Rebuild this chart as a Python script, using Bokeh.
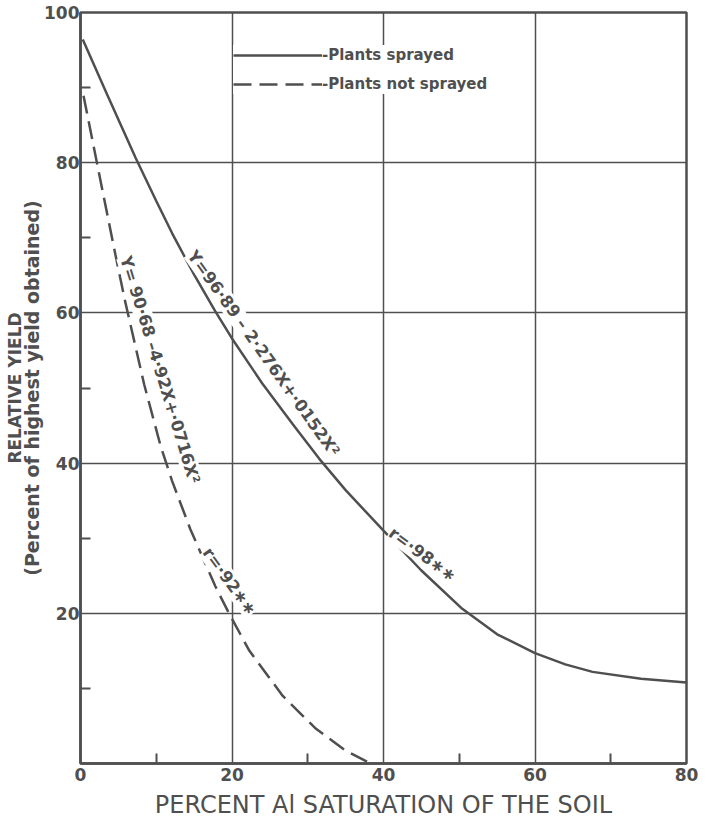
import numpy as np
from bokeh.plotting import figure
from bokeh.models import Range1d, FixedTicker, Legend, LegendItem, LinearAxis
from bokeh.core.properties import value
from bokeh.embed import file_html
from bokeh.resources import INLINE

# ---- data ----
sprayed_x = [0.3, 3.5, 7.3, 10.0, 12.1, 15.0, 17.8, 20.0, 24.0, 28.0, 31.5, 35.0, 40.0, 45.0,
             50.4, 55.0, 60.0, 64.0, 67.6, 74.0, 80.0]
sprayed_y = [96.4, 89.1, 80.6, 74.9, 70.6, 65.1, 60.2, 56.6, 50.6, 45.2, 40.6, 36.4, 31.0, 25.7,
             20.6, 17.2, 14.7, 13.2, 12.2, 11.3, 10.8]

not_sprayed_x = [0.4, 2.8, 4.6, 5.9, 8.4, 10.6, 12.1, 14.5, 17.8, 19.6, 22.3, 26.7, 31.0, 35.0, 38.3]
not_sprayed_y = [88.9, 76.8, 67.8, 61.5, 50.5, 42.2, 37.6, 31.2, 23.6, 20.0, 15.0, 9.0, 4.7, 1.7, 0.0]

x_ticks = [0, 20, 40, 60, 80]
x_minor = [10, 30, 50, 70]
y_ticks = [20, 40, 60, 80, 100]
y_minor = [10, 30, 50, 70, 90]
grid_x = [20, 40, 60]
grid_y = [20, 40, 60, 80]

series_labels = ["-Plants sprayed", "-Plants not sprayed"]

eq_text = ["Y=96·89 – 2·276X+·0152X²", "r=·98∗∗", "Y= 90·68 –4·92X+·0716X²", "r=·92∗∗"]
eq_x = [24.16, 45.15, 10.5, 19.67]
eq_y = [54.6, 27.83, 52.4, 24.23]
eq_angle_deg = [-54.5, -36.6, -73.0, -54.0]

x_title = "PERCENT Al SATURATION OF THE SOIL"
y_title1 = "RELATIVE YIELD"
y_title2 = "(Percent of highest yield obtained)"

INK = "#4f4f4f"
FONT = "DejaVu Sans"

p = figure(width=699, height=822, output_backend="svg", toolbar_location=None,
           x_range=Range1d(0, 80), y_range=Range1d(0, 100),
           min_border_left=80, min_border_right=13, min_border_top=12, min_border_bottom=59)
p.background_fill_color = "white"
p.border_fill_color = "white"
p.outline_line_color = INK
p.outline_line_width = 2.5
p.outline_line_alpha = 1.0

p.xaxis.ticker = FixedTicker(ticks=x_ticks, minor_ticks=x_minor)
p.yaxis.ticker = FixedTicker(ticks=y_ticks, minor_ticks=y_minor)
for ax in (p.xaxis[0], p.yaxis[0]):
    ax.axis_line_color = INK
    ax.axis_line_width = 2.5
    ax.major_tick_in = 0
    ax.major_tick_out = 0
    ax.minor_tick_in = 10
    ax.minor_tick_out = 0
    ax.minor_tick_line_color = INK
    ax.minor_tick_line_width = 2
    ax.major_label_text_font = FONT
    ax.major_label_text_font_size = "17px"
    ax.major_label_text_font_style = "bold"
    ax.major_label_text_color = INK
    ax.axis_label_text_font = FONT
    ax.axis_label_text_color = INK
p.yaxis.major_label_standoff = 1
p.xaxis.major_label_standoff = 4

p.xaxis.axis_label = x_title
p.xaxis.axis_label_text_font_size = "24px"
p.xaxis.axis_label_text_font_style = "normal"
p.xaxis.axis_label_standoff = 7

p.yaxis.axis_label = y_title2
p.yaxis.axis_label_text_font_size = "19px"
p.yaxis.axis_label_text_font_style = "bold"
p.yaxis.axis_label_standoff = -2

outer = LinearAxis(ticker=FixedTicker(ticks=[]), axis_label=y_title1,
                   axis_line_alpha=0, major_tick_line_alpha=0, minor_tick_line_alpha=0,
                   major_tick_out=0, minor_tick_out=0, major_label_standoff=0,
                   axis_label_standoff=-6, axis_label_text_font=FONT,
                   axis_label_text_font_size="17px", axis_label_text_font_style="bold",
                   axis_label_text_color=INK)
p.add_layout(outer, "left")

p.xgrid.ticker = FixedTicker(ticks=grid_x)
p.ygrid.ticker = FixedTicker(ticks=grid_y)
for g in (p.xgrid[0], p.ygrid[0]):
    g.grid_line_color = INK
    g.grid_line_width = 1.5
    g.grid_line_alpha = 1.0

r1 = p.line(sprayed_x, sprayed_y, line_color=INK, line_width=2.5)
r2 = p.line(not_sprayed_x, not_sprayed_y, line_color=INK, line_width=2.5, line_dash="18 8")

legend = Legend(items=[LegendItem(label=series_labels[0], renderers=[r1]),
                       LegendItem(label=series_labels[1], renderers=[r2])],
                location=(153, 669), padding=0, spacing=9, margin=0,
                glyph_width=89, glyph_height=20, label_height=20, label_standoff=0,
                border_line_alpha=0, background_fill_color="white", background_fill_alpha=1.0,
                label_text_font=FONT, label_text_font_size="15px", label_text_font_style="bold",
                label_text_color=INK)
p.add_layout(legend)

p.text(x=eq_x, y=eq_y, text=eq_text, angle=list(np.radians(eq_angle_deg)),
       text_align="center", text_baseline="middle", text_font=value(FONT),
       text_font_size="16.5px", text_font_style="bold", text_color=INK,
       background_fill_color="white", background_fill_alpha=1.0, padding=0)

open("out.html", "w").write(file_html(p, INLINE))
